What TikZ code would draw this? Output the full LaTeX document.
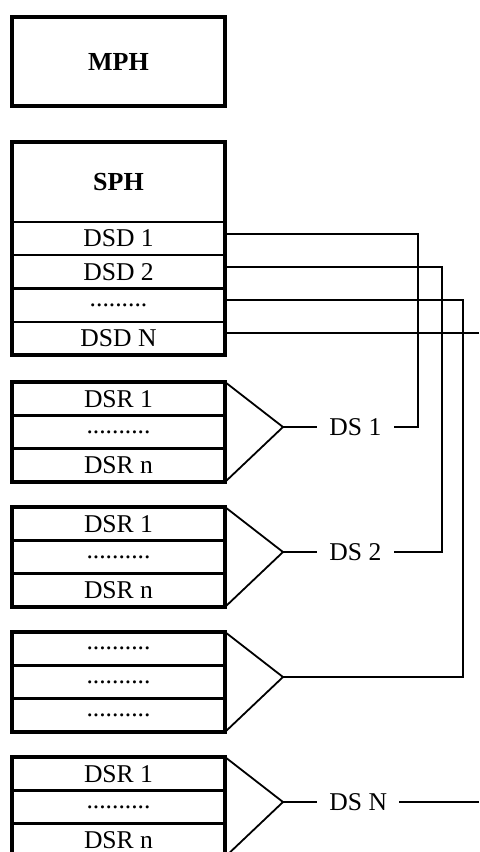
\documentclass[tikz,border=0pt]{standalone}
\usepackage{fontspec}
\setmainfont{Liberation Serif}
\usetikzlibrary{positioning, calc}

\begin{document}
\begin{tikzpicture}[
    x=0.5pt, y=-0.5pt,
    node distance=0pt,
    font=\fontsize{12.8}{15}\selectfont,
    cell/.style={
        rectangle,
        draw,
        line width=1.2pt,
        minimum width=106.5pt,
        inner sep=0pt,
        outer sep=0pt,
        anchor=north
    },
    header/.style={
        cell,
        font=\fontsize{13}{15}\selectfont\bfseries
    },
    dsdrow/.style={
        cell,
        minimum height=16.625pt
    },
    dsrrow/.style={
        cell,
        minimum height=16.67pt
    },
    boxframe/.style={
        line width=2pt
    },
    wire/.style={
        line width=0.9pt
    },
    dslabel/.style={
        inner xsep=6pt,
        inner ysep=2pt
    }
]

    \useasboundingbox (0,0) rectangle (479,852);

    % bus columns and right edge
    \coordinate (bus1) at (418,0);
    \coordinate (bus2) at (442,0);
    \coordinate (bus3) at (463,0);
    \coordinate (rim) at (479,0);

    % MPH
    \node[header, minimum height=44.5pt] (mph) at (118.5,17) {MPH};
    \draw[boxframe] (mph.north west) rectangle (mph.south east);

    % SPH with descriptors
    \node[header, minimum height=40pt] (sph) at (118.5,142) {SPH};
    \node[dsdrow, below=of sph] (dsd1) {DSD 1};
    \node[dsdrow, below=of dsd1] (dsd2) {DSD 2};
    \node[dsdrow, below=of dsd2] (dsddots) {.........};
    \node[dsdrow, below=of dsddots] (dsdn) {DSD N};
    \draw[boxframe] (sph.north west) rectangle (dsdn.south east);

    % DS 1
    \node[dsrrow] (g1a) at (118.5,382) {DSR 1};
    \node[dsrrow, below=of g1a] (g1b) {..........};
    \node[dsrrow, below=of g1b] (g1c) {DSR n};
    \draw[boxframe] (g1a.north west) rectangle (g1c.south east);
    \coordinate (tip1) at ($(g1a.north east)!0.45!(g1c.south east) + (58,0)$);
    \draw[wire] (g1a.north east) -- (tip1) -- (g1c.south east);
    \node[dslabel, right=17pt of tip1] (ds1) {DS 1};
    \draw[wire] (tip1) -- (ds1);

    % DS 2
    \node[dsrrow] (g2a) at (118.5,507) {DSR 1};
    \node[dsrrow, below=of g2a] (g2b) {..........};
    \node[dsrrow, below=of g2b] (g2c) {DSR n};
    \draw[boxframe] (g2a.north west) rectangle (g2c.south east);
    \coordinate (tip2) at ($(g2a.north east)!0.45!(g2c.south east) + (58,0)$);
    \draw[wire] (g2a.north east) -- (tip2) -- (g2c.south east);
    \node[dslabel, right=17pt of tip2] (ds2) {DS 2};
    \draw[wire] (tip2) -- (ds2);

    % unnamed DS
    \node[dsrrow] (g3a) at (118.5,632) {..........};
    \node[dsrrow, below=of g3a] (g3b) {..........};
    \node[dsrrow, below=of g3b] (g3c) {..........};
    \draw[boxframe] (g3a.north west) rectangle (g3c.south east);
    \coordinate (tip3) at ($(g3a.north east)!0.45!(g3c.south east) + (58,0)$);
    \draw[wire] (g3a.north east) -- (tip3) -- (g3c.south east);

    % DS N
    \node[dsrrow] (g4a) at (118.5,757) {DSR 1};
    \node[dsrrow, below=of g4a] (g4b) {..........};
    \node[dsrrow, below=of g4b] (g4c) {DSR n};
    \draw[boxframe] (g4a.north west) rectangle (g4c.south east);
    \coordinate (tip4) at ($(g4a.north east)!0.45!(g4c.south east) + (58,0)$);
    \draw[wire] (g4a.north east) -- (tip4) -- (g4c.south east);
    \node[dslabel, right=17pt of tip4] (dsn) {DS N};
    \draw[wire] (tip4) -- (dsn);
    \draw[wire] (dsn.east) -- (dsn.east -| rim);

    % descriptors to streams
    \coordinate (out1) at ($(dsd1.east)+(0,-5)$);
    \coordinate (out2) at ($(dsd2.east)+(0,-5)$);
    \coordinate (out3) at ($(dsddots.east)+(0,-5)$);
    \coordinate (out4) at ($(dsdn.east)+(0,-5)$);
    \draw[wire] (out1) -- (out1 -| bus1) |- (ds1.east);
    \draw[wire] (out2) -- (out2 -| bus2) |- (ds2.east);
    \draw[wire] (out3) -- (out3 -| bus3) |- (tip3);
    \draw[wire] (out4) -- (out4 -| rim);

\end{tikzpicture}
\end{document}
